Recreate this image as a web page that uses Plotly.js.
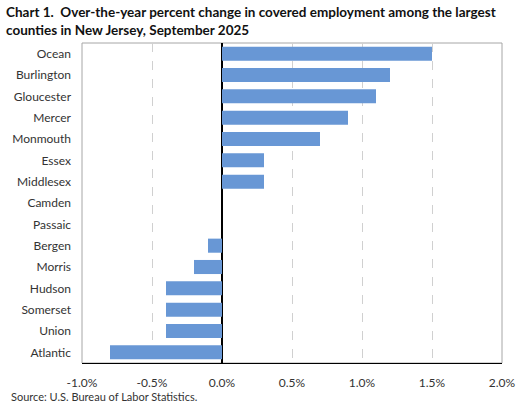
<!DOCTYPE html>
<html>
<head>
<meta charset="utf-8">
<script src="https://cdn.plot.ly/plotly-3.0.1.min.js"></script>
<style>html,body{margin:0;padding:0;background:#fff;}#chart{width:525px;height:403px;}</style>
</head>
<body>
<div id="chart"></div>
<script>
const counties = ["Ocean","Burlington","Gloucester","Mercer","Monmouth","Essex","Middlesex","Camden","Passaic","Bergen","Morris","Hudson","Somerset","Union","Atlantic"];
const pctChange = [1.5,1.2,1.1,0.9,0.7,0.3,0.3,0.0,0.0,-0.1,-0.2,-0.4,-0.4,-0.4,-0.8];
const xTickVals = [-1.0,-0.5,0.0,0.5,1.0,1.5,2.0];
const xTickText = ["-1.0%","-0.5%","0.0%","0.5%","1.0%","1.5%","2.0%"];
const titleText = "<b>Chart 1.  Over-the-year percent change in covered employment among the largest<br>counties in New Jersey, September 2025</b>";
const sourceText = "Source: U.S. Bureau of Labor Statistics.";

const font = "Lato, 'Open Sans', sans-serif";
const trace = {
  type: "bar",
  orientation: "h",
  y: counties,
  x: pctChange,
  marker: {color: "#6897D5"},
  hoverinfo: "none"
};
const layout = {
  width: 525, height: 403,
  margin: {l: 82, r: 23, t: 43, b: 40},
  paper_bgcolor: "#fff", plot_bgcolor: "#fff",
  showlegend: false,
  bargap: 0.34,
  font: {family: font, size: 12, color: "#333"},
  xaxis: {
    range: [-1, 2],
    tickvals: xTickVals, ticktext: xTickText,
    showgrid: true, gridcolor: "#D0D0D0", griddash: "dash", gridwidth: 1,
    zeroline: true, zerolinecolor: "#000", zerolinewidth: 1.2,
    showline: true, linecolor: "#000", linewidth: 1,
    ticks: "", ticklabelstandoff: 9,
    tickfont: {family: font, size: 12, color: "#333"},
    fixedrange: true
  },
  yaxis: {
    autorange: "reversed",
    showgrid: false, zeroline: false,
    showline: false,
    ticks: "", ticklabelstandoff: 10,
    tickfont: {family: font, size: 12, color: "#333"},
    fixedrange: true
  },
  shapes: [{
    type: "rect", xref: "paper", yref: "paper", x0: 0, x1: 1, y0: 0, y1: 1,
    line: {color: "#A6A6A6", width: 1}, layer: "below"
  }],
  annotations: [{
    text: titleText,
    xref: "paper", yref: "paper", x: -78/420, xanchor: "left", align: "left",
    y: 1 + 41/320, yanchor: "top", showarrow: false,
    font: {family: font, size: 13.5, color: "#111"}
  }, {
    text: sourceText,
    xref: "paper", yref: "paper", x: -73/420, xanchor: "left",
    y: -33/320, yanchor: "middle", showarrow: false,
    font: {family: font, size: 11, color: "#333"}
  }]
};
Plotly.newPlot("chart", [trace], layout, {displayModeBar: false, staticPlot: true});
</script>
</body>
</html>
